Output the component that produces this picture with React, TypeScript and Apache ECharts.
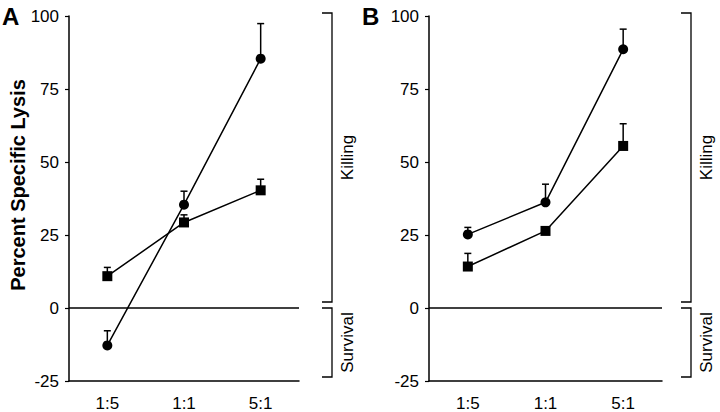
import React, { useEffect, useRef } from "react";
import * as echarts from "echarts";

const categories = ["1:5", "1:1", "5:1"];
const yTicks = { min: -25, max: 100, interval: 25 };

const aCircle = [-12.8, 35.4, 85.4];
const aCircleErr = [5, 4.6, 12];
const aSquare = [10.9, 29.3, 40.3];
const aSquareErr = [3, 2.6, 3.8];

const bCircle = [25.2, 36.2, 88.6];
const bCircleErr = [2.4, 6.2, 6.9];
const bSquare = [14.2, 26.4, 55.5];
const bSquareErr = [4.5, 1.2, 7.6];

const panelLetters = ["A", "B"];
const yAxisTitle = "Percent Specific Lysis";
const bracketLabels = ["Killing", "Survival"];

const FONT = "'Liberation Sans', Arial, Helvetica, sans-serif";

const grids = [
  { left: 69, top: 16, width: 230, height: 367 },
  { left: 429, top: 16, width: 233, height: 366 },
];

function errData(vals: number[], errs: number[]) {
  return vals.map((v, i) => [i, v, errs[i]]);
}

function renderErr(params: any, api: any) {
  const x = api.value(0);
  const y = api.value(1);
  const e = api.value(2);
  const p0 = api.coord([x, y]);
  const p1 = api.coord([x, y + e]);
  const st = { stroke: "#000", lineWidth: 1.5 };
  return {
    type: "group",
    children: [
      { type: "line", shape: { x1: p0[0], y1: p0[1], x2: p1[0], y2: p1[1] }, style: st },
      { type: "line", shape: { x1: p1[0] - 3.5, y1: p1[1], x2: p1[0] + 3.5, y2: p1[1] }, style: st },
    ],
  };
}

export default function App() {
  const ref = useRef<HTMLDivElement>(null);
  useEffect(() => {
    if (!ref.current) return;
    const chart = echarts.init(ref.current, null, { renderer: "svg" });

    const lineSeries = (name: string, data: number[], idx: number, symbol: string, size: number, withZero: boolean) => ({
      type: "line",
      name,
      xAxisIndex: idx,
      yAxisIndex: idx,
      data,
      symbol,
      symbolSize: size,
      z: 3,
      lineStyle: { color: "#000", width: 1.5 },
      itemStyle: { color: "#000" },
      markLine: withZero
        ? {
            silent: true,
            symbol: "none",
            label: { show: false },
            lineStyle: { color: "#000", type: "solid", width: 1.5 },
            data: [{ yAxis: 0 }],
          }
        : undefined,
    });

    const errSeries = (vals: number[], errs: number[], idx: number) => ({
      type: "custom",
      xAxisIndex: idx,
      yAxisIndex: idx,
      data: errData(vals, errs),
      renderItem: renderErr,
      z: 2,
      silent: true,
    });

    const xAxes = grids.map((_, i) => ({
      type: "category",
      gridIndex: i,
      data: categories,
      boundaryGap: true,
      axisLine: { show: true, onZero: false, lineStyle: { color: "#000", width: 1.5 } },
      axisTick: { show: false },
      axisLabel: { color: "#000", fontSize: 17, fontFamily: FONT, margin: 14 },
    }));
    const yAxes = grids.map((_, i) => ({
      type: "value",
      gridIndex: i,
      min: yTicks.min,
      max: yTicks.max,
      interval: yTicks.interval,
      axisLine: { show: true, lineStyle: { color: "#000", width: 1.5 } },
      axisTick: { show: true, length: 4, lineStyle: { color: "#000", width: 1.2 } },
      splitLine: { show: false },
      axisLabel: { color: "#000", fontSize: 17, fontFamily: FONT, margin: 10, padding: [5, 0, 0, 0] },
    }));

    const option: any = {
      animation: false,
      backgroundColor: "#fff",
      grid: grids.map((g) => ({ ...g, containLabel: false })),
      xAxis: xAxes,
      yAxis: yAxes,
      series: [
        errSeries(aCircle, aCircleErr, 0),
        errSeries(aSquare, aSquareErr, 0),
        lineSeries("A circle", aCircle, 0, "circle", 10, true),
        lineSeries("A square", aSquare, 0, "rect", 10, false),
        errSeries(bCircle, bCircleErr, 1),
        errSeries(bSquare, bSquareErr, 1),
        lineSeries("B circle", bCircle, 1, "circle", 10, true),
        lineSeries("B square", bSquare, 1, "rect", 10, false),
      ],
    };
    chart.setOption(option);

    // annotations (brackets, letters, titles) positioned from axis scale
    const graphics: any[] = [];
    const bracketOffsets = [33, 29];
    const letterX = [2, 362];
    grids.forEach((g, i) => {
      const yTop = chart.convertToPixel({ yAxisIndex: i } as any, 100) as number;
      const y0 = chart.convertToPixel({ yAxisIndex: i } as any, 0) as number;
      const yBot = chart.convertToPixel({ yAxisIndex: i } as any, -25) as number;
      const bx = g.left + g.width + bracketOffsets[i];
      const st = { stroke: "#000", lineWidth: 1.3, fill: "none" };
      const k1 = yTop - 3;
      const k2 = y0 - 6;
      const s1 = y0;
      const s2 = yBot - 4;
      graphics.push({
        type: "polyline",
        shape: { points: [[bx - 10, k1], [bx, k1], [bx, k2], [bx - 10, k2]] },
        style: st,
      });
      graphics.push({
        type: "polyline",
        shape: { points: [[bx - 10, s1], [bx, s1], [bx, s2], [bx - 10, s2]] },
        style: st,
      });
      graphics.push({
        type: "text",
        x: bx + 15,
        y: (k1 + k2) / 2,
        rotation: Math.PI / 2,
        style: {
          text: bracketLabels[0],
          fontSize: 17,
          fontFamily: FONT,
          fill: "#000",
          align: "center",
          verticalAlign: "middle",
        },
      });
      graphics.push({
        type: "text",
        x: bx + 15,
        y: (s1 + s2) / 2,
        rotation: Math.PI / 2,
        style: {
          text: bracketLabels[1],
          fontSize: 17,
          fontFamily: FONT,
          fill: "#000",
          align: "center",
          verticalAlign: "middle",
        },
      });
      graphics.push({
        type: "text",
        x: letterX[i],
        y: 4,
        style: {
          text: panelLetters[i],
          fontSize: 24,
          fontWeight: "bold",
          fontFamily: FONT,
          fill: "#000",
          align: "left",
          verticalAlign: "top",
        },
      });
    });
    graphics.push({
      type: "text",
      x: 17.5,
      y: 185,
      rotation: Math.PI / 2,
      style: {
        text: yAxisTitle,
        fontSize: 20,
        fontWeight: "bold",
        fontFamily: FONT,
        fill: "#000",
        align: "center",
        verticalAlign: "middle",
      },
    });
    chart.setOption({ graphic: graphics });

    return () => chart.dispose();
  }, []);

  return (
    <div
      ref={ref}
      style={{ position: "fixed", left: 0, top: 0, width: 720, height: 412, background: "#fff" }}
    />
  );
}
